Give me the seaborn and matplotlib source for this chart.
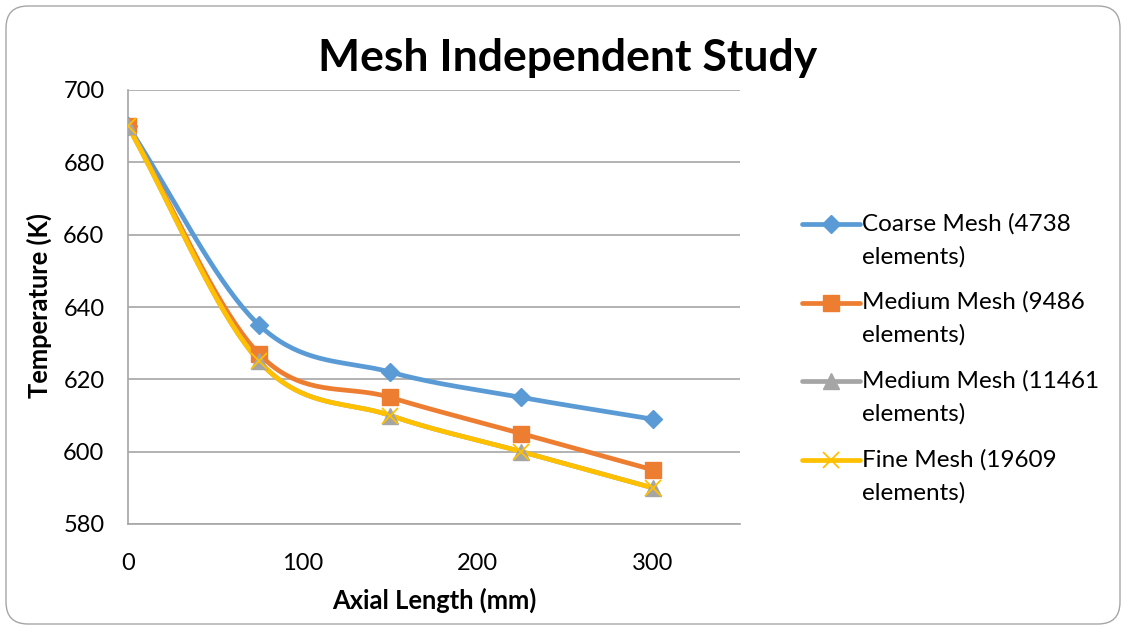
import numpy as np
import pandas as pd
import matplotlib
matplotlib.use("Agg")
import matplotlib.pyplot as plt
from matplotlib.lines import Line2D
from matplotlib.legend_handler import HandlerLine2D
from matplotlib.patches import FancyBboxPatch
import seaborn as sns

# Axial positions (mm) and outlet temperatures (K) for each mesh
axial_mm = [0, 75, 150, 225, 300]
coarse_4738 = [690, 635, 622, 615, 609]
medium_9486 = [690, 627, 615, 605, 595]
medium_11461 = [690, 625, 610, 600, 590]
fine_19609 = [690, 625, 610, 600, 590]

series_names = [
    "Coarse Mesh (4738\nelements)",
    "Medium Mesh (9486\nelements)",
    "Medium Mesh (11461\nelements)",
    "Fine Mesh (19609\nelements)",
]
series_values = [coarse_4738, medium_9486, medium_11461, fine_19609]
colors = ["#5B9BD5", "#ED7D31", "#A5A5A5", "#FFC000"]
markers = ["D", "s", "^", "x"]
marker_sizes = [9, 12, 11, 11]

sns.set_theme(style="white")
plt.rcParams["font.family"] = ["Lato", "DejaVu Sans"]
plt.rcParams["text.color"] = "black"


def smooth_curve(x, y, n=40):
    """Catmull-Rom style smoothing through the given points."""
    x = np.asarray(x, float)
    y = np.asarray(y, float)
    px = np.concatenate([[2 * x[0] - x[1]], x, [2 * x[-1] - x[-2]]])
    py = np.concatenate([[2 * y[0] - y[1]], y, [2 * y[-1] - y[-2]]])
    xs, ys = [], []
    t = np.linspace(0, 1, n)
    for i in range(1, len(px) - 2):
        p0, p1, p2, p3 = (np.array([px[j], py[j]]) for j in range(i - 1, i + 3))
        c1 = p1 + (p2 - p0) / 6
        c2 = p2 - (p3 - p1) / 6
        b = ((1 - t) ** 3)[:, None] * p1 + (3 * (1 - t) ** 2 * t)[:, None] * c1 \
            + (3 * (1 - t) * t ** 2)[:, None] * c2 + (t ** 3)[:, None] * p2
        xs.append(b[:, 0])
        ys.append(b[:, 1])
    return np.concatenate(xs), np.concatenate(ys)


class HandlerFirstLine(HandlerLine2D):
    """Legend handle raised to sit beside the first line of a two-line label."""

    def __init__(self, shift, **kw):
        super().__init__(**kw)
        self.shift = shift

    def create_artists(self, legend, orig_handle, xdescent, ydescent, width, height,
                       fontsize, trans):
        artists = super().create_artists(legend, orig_handle, xdescent, ydescent,
                                         width, height, fontsize, trans)
        for a in artists:
            a.set_ydata(np.asarray(a.get_ydata(), float) + self.shift)
        return artists


fig = plt.figure(figsize=(11.26, 6.28), dpi=100)
fig.patch.set_facecolor("white")
ax = fig.add_axes([128 / 1126, 1 - 524 / 628, 612 / 1126, 434 / 628])

for name, vals, c, m, ms in zip(series_names, series_values, colors, markers, marker_sizes):
    sx, sy = smooth_curve(axial_mm, vals)
    curve = pd.DataFrame({"x": sx, "y": sy})
    sns.lineplot(data=curve, x="x", y="y", ax=ax, color=c, linewidth=3.4,
                 sort=False, estimator=None, legend=False, zorder=3)
    pts = pd.DataFrame({"x": axial_mm, "y": vals})
    if m == "x":
        ax.plot(pts["x"], pts["y"], linestyle="none", marker="x", markersize=ms,
                markeredgecolor=c, markeredgewidth=1.3, zorder=4)
    else:
        ax.plot(pts["x"], pts["y"], linestyle="none", marker=m, markersize=ms,
                markerfacecolor=c, markeredgecolor=c, zorder=4)

ax.set_xlim(0, 350)
ax.set_ylim(580, 700)
ax.set_xticks([0, 100, 200, 300])
ax.set_yticks(range(580, 701, 20))
ax.grid(axis="y", color="#A6A6A6", linewidth=1.2)
ax.grid(axis="x", visible=False)
for side in ["top", "right"]:
    ax.spines[side].set_visible(False)
for side in ["left", "bottom"]:
    ax.spines[side].set_color("#A6A6A6")
    ax.spines[side].set_linewidth(1.2)
ax.tick_params(axis="y", length=0, labelsize=17, colors="black", pad=17)
ax.tick_params(axis="x", length=0, labelsize=17, colors="black", pad=21)
ax.set_xlabel("Axial Length (mm)", fontsize=18.4, fontweight="bold", labelpad=12, color="black")
ax.set_ylabel("Temperature (K)", fontsize=18.4, fontweight="bold", labelpad=14, color="black")
ax.xaxis.set_label_coords(434 / 1126, 1 - 600 / 628, transform=fig.transFigure)
ax.yaxis.set_label_coords(39 / 1126, 1 - 306 / 628, transform=fig.transFigure)
ax.xaxis.label.set_va("center")
ax.yaxis.label.set_va("center")

fig.text(568 / 1126, 1 - 58 / 628, "Mesh Independent Study", ha="center", va="center",
         fontsize=32, fontweight="bold", color="black")

handles = []
for c, m, ms in zip(colors, markers, marker_sizes):
    if m == "x":
        h = Line2D([], [], color=c, linewidth=3.4, marker="x", markersize=ms,
                   markeredgecolor=c, markeredgewidth=1.3)
    else:
        h = Line2D([], [], color=c, linewidth=3.4, marker=m, markersize=ms,
                   markerfacecolor=c, markeredgecolor=c)
    handles.append(h)
leg = fig.legend(handles, series_names, loc="center left",
                 bbox_to_anchor=(792 / 1126, 1 - 358 / 628),
                 frameon=False, fontsize=17.5, handlelength=2.4, handletextpad=0.1,
                 labelspacing=1.0, borderaxespad=0,
                 handler_map={Line2D: HandlerFirstLine(shift=11.5)})
for t in leg.get_texts():
    t.set_linespacing(1.65)

border = FancyBboxPatch((6, 4), 1114, 618, boxstyle="round,pad=0,rounding_size=22",
                        transform=None, facecolor="none", edgecolor="#A6A6A6", linewidth=1.0)
fig.patches.append(border)

fig.savefig("out.png", dpi=100, facecolor="white")
